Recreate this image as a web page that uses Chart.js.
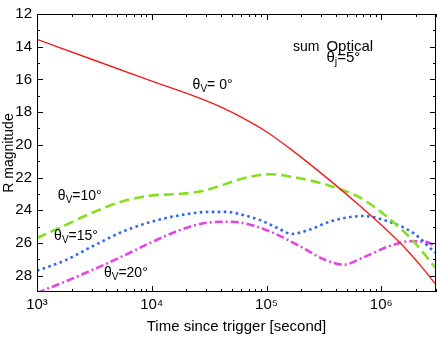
<!DOCTYPE html>
<html>
<head>
<meta charset="utf-8">
<script src="https://cdn.jsdelivr.net/npm/chart.js@4"></script>
<style>
html, body { margin: 0; padding: 0; background: #fff; }
canvas { display: block; }
</style>
</head>
<body>
<canvas id="chart" width="437" height="338"></canvas>
<script>
// time since trigger [s] and R magnitude
const tRed = [1e3, 3.16e3, 1e4, 2.51e4, 3.98e4, 6.31e4, 1e5, 1.58e5, 2.51e5, 3.98e5, 6.31e5, 1e6, 1.58e6, 2.24e6, 3e6];
const magRed = [13.55, 14.83, 16.1, 17.1, 17.68, 18.38, 19.2, 20.2, 21.3, 22.45, 23.65, 24.9, 26.25, 27.45, 28.55];

const tGreen = [1e3, 1.78e3, 3.16e3, 5.62e3, 1e4, 1.78e4, 2.63e4, 3.98e4, 5.89e4, 1.07e5, 1.95e5, 3.55e5, 6.61e5, 1.17e6, 1.91e6, 2.95e6];
const magGreen = [25.7, 24.9, 24.1, 23.45, 23.1, 23.0, 22.85, 22.5, 22.1, 21.8, 22.05, 22.5, 23.25, 24.5, 25.9, 27.5];

const tBlue = [1e3, 1.78e3, 3.16e3, 5.62e3, 1e4, 1.78e4, 3.16e4, 4.47e4, 6.31e4, 8.91e4, 1.26e5, 1.66e5, 2.34e5, 3.55e5, 5.01e5, 6.92e5, 1.17e6, 1.91e6, 2.95e6];
const magBlue = [27.7, 27.05, 26.15, 25.3, 24.7, 24.3, 24.1, 24.1, 24.3, 24.62, 25.1, 25.45, 25.2, 24.7, 24.45, 24.35, 24.7, 25.4, 26.6];

const tMagenta = [1e3, 1.78e3, 3.16e3, 5.62e3, 1e4, 1.78e4, 2.82e4, 4.17e4, 5.89e4, 1.07e5, 1.95e5, 3.16e5, 4.68e5, 6.92e5, 1.17e6, 1.78e6, 2.51e6, 2.95e6];
const magMagenta = [29.05, 28.35, 27.6, 26.8, 25.95, 25.2, 24.8, 24.7, 24.75, 25.3, 26.2, 27.0, 27.33, 26.9, 26.2, 25.9, 25.95, 26.2];

const xTicks = [1e3, 1e4, 1e5, 1e6];
const xTickLabels = ['10³', '10⁴', '10⁵', '10⁶'];
const yTicks = [12, 14, 16, 18, 20, 22, 24, 26, 28];

// text in the plot: [time, magnitude, main, subscript, rest, font size]
const notes = [
  [2.27e4, 16.56, 'θ', 'V', '= 0°', 14],
  [1.52e3, 23.36, 'θ', 'V', '=10°', 14],
  [1.41e3, 25.79, 'θ', 'V', '=15°', 14],
  [3.83e3, 28.09, 'θ', 'V', '=20°', 14],
  [1.7e5, 14.25, 'sum', '', '', 14],
  [3.33e5, 14.25, 'Optical', '', '', 15],
  [3.33e5, 14.96, 'θ', 'j', '=5°', 15]
];

const FONT = "'Liberation Sans', Arial, Helvetica, sans-serif";
Chart.defaults.font.family = FONT;
Chart.defaults.color = '#000';

function pts(t, m) {
  return t.map((v, i) => ({ x: v, y: m[i] }));
}

const frameTicks = {
  id: 'frameTicks',
  afterDatasetsDraw(chart) {
    const { ctx, chartArea: a, scales: { x, y } } = chart;
    ctx.save();
    ctx.strokeStyle = '#000';
    ctx.lineWidth = 1;
    ctx.beginPath();
    for (let p = 3; p <= 6; p++) {
      for (let k = 1; k <= 9; k++) {
        const v = k * Math.pow(10, p);
        if (v > x.max) break;
        const px = Math.round(x.getPixelForValue(v)) + 0.5;
        const len = k === 1 ? 6 : 3;
        ctx.moveTo(px, a.bottom); ctx.lineTo(px, a.bottom - len);
        ctx.moveTo(px, a.top); ctx.lineTo(px, a.top + len);
      }
    }
    for (let v = 13; v < 29; v++) {
      const py = Math.round(y.getPixelForValue(v)) + 0.5;
      const len = v % 2 === 0 ? 6 : 3;
      ctx.moveTo(a.left, py); ctx.lineTo(a.left + len, py);
      ctx.moveTo(a.right, py); ctx.lineTo(a.right - len, py);
    }
    ctx.stroke();
    ctx.strokeRect(a.left + 0.5, a.top + 0.5, a.right - a.left - 1, a.bottom - a.top - 1);

    // annotations
    ctx.fillStyle = '#000';
    ctx.textBaseline = 'alphabetic';
    ctx.textAlign = 'left';
    notes.forEach(([t, m, main, sub, rest, size]) => {
      let px = x.getPixelForValue(t);
      const py = y.getPixelForValue(m);
      ctx.font = size + 'px ' + FONT;
      ctx.fillText(main, px, py);
      px += ctx.measureText(main).width;
      if (sub) {
        ctx.font = Math.round(size * 0.72) + 'px ' + FONT;
        ctx.fillText(sub, px, py + 3);
        px += ctx.measureText(sub).width;
      }
      if (rest) {
        ctx.font = size + 'px ' + FONT;
        ctx.fillText(rest, px, py);
      }
    });
    ctx.restore();
  }
};

const common = { pointRadius: 0, fill: false, cubicInterpolationMode: 'monotone', clip: 0, borderCapStyle: 'butt' };

new Chart(document.getElementById('chart').getContext('2d'), {
  type: 'line',
  data: {
    datasets: [
      Object.assign({ label: 'θv=0°', data: pts(tRed, magRed), borderColor: '#f21c1c', borderWidth: 1.4 }, common),
      Object.assign({ label: 'θv=10°', data: pts(tGreen, magGreen), borderColor: '#82e01e', borderWidth: 2.6, borderDash: [10, 5] }, common),
      Object.assign({ label: 'θv=15°', data: pts(tBlue, magBlue), borderColor: '#3068ee', borderWidth: 2.6, borderDash: [2.6, 3.4] }, common),
      Object.assign({ label: 'θv=20°', data: pts(tMagenta, magMagenta), borderColor: '#e443e6', borderWidth: 2.6, borderDash: [8, 3, 2, 3] }, common)
    ]
  },
  options: {
    responsive: false,
    animation: false,
    devicePixelRatio: 1,
    layout: { padding: { top: 5, right: 1, left: 0, bottom: 0 } },
    plugins: {
      legend: { display: false },
      tooltip: { enabled: false }
    },
    scales: {
      x: {
        type: 'logarithmic',
        min: 1e3,
        max: 3e6,
        grid: { display: false, drawTicks: false },
        border: { display: false },
        afterBuildTicks: s => { s.ticks = xTicks.map(v => ({ value: v })); },
        afterFit: s => { s.height = 46; },
        ticks: {
          autoSkip: false,
          maxRotation: 0,
          padding: 4,
          font: { size: 15 },
          callback: v => {
            const i = xTicks.indexOf(v);
            return i >= 0 ? xTickLabels[i] : '';
          }
        },
        title: { display: true, text: 'Time since trigger [second]', font: { size: 15 }, padding: { top: 0, bottom: 2 } }
      },
      y: {
        type: 'linear',
        reverse: true,
        min: 12,
        max: 29,
        grid: { display: false, drawTicks: false },
        border: { display: false },
        afterBuildTicks: s => { s.ticks = yTicks.map(v => ({ value: v })); },
        afterFit: s => { s.width = 37; },
        ticks: { padding: 5, font: { size: 15 } },
        title: { display: true, text: 'R magnitude', font: { size: 14 }, padding: { top: 1, bottom: 0 } }
      }
    }
  },
  plugins: [frameTicks]
});
</script>
</body>
</html>
